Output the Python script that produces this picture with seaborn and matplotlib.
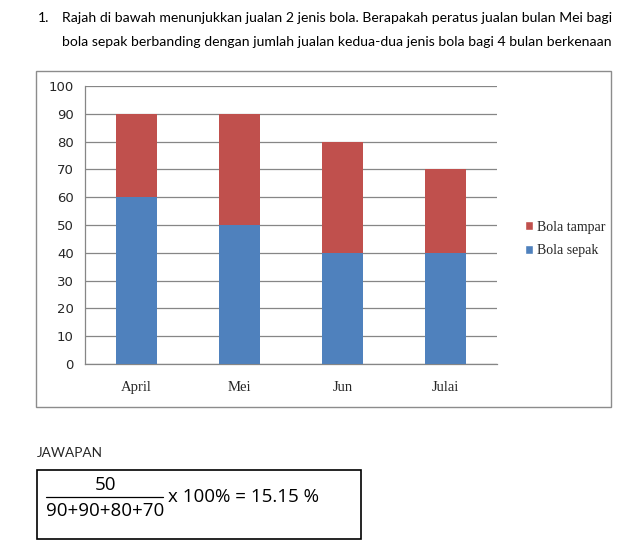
import matplotlib
matplotlib.use("Agg")
import matplotlib.pyplot as plt
import seaborn as sns
import pandas as pd
from matplotlib.patches import Rectangle, Patch

months = ["April", "Mei", "Jun", "Julai"]
bola_sepak = [60, 50, 40, 40]
bola_tampar = [30, 40, 40, 30]
yticks = list(range(0, 101, 10))

totals = [a + b for a, b in zip(bola_sepak, bola_tampar)]
df = pd.DataFrame({"Bulan": months, "sepak": bola_sepak, "total": totals})

RED = "#C0504D"
BLUE = "#4F81BD"
GRID = "#868686"

sns.set_style("white")
fig = plt.figure(figsize=(6.4, 5.46), dpi=100)
W, H = 640, 546

def fx(x):
    return x / W

def fy(y):
    return 1 - y / H

# chart frame
fig.patches.append(Rectangle((fx(36), fy(407)), fx(611) - fx(36), fy(71) - fy(407),
                             transform=fig.transFigure, fill=False, edgecolor="#8c8c8c", lw=1.0))
# answer box
fig.patches.append(Rectangle((fx(37), fy(539)), fx(361) - fx(37), fy(470) - fy(539),
                             transform=fig.transFigure, fill=False, edgecolor="black", lw=1.2))

ax = fig.add_axes([fx(85), fy(364), fx(497) - fx(85), fy(86) - fy(364)])
sns.barplot(data=df, x="Bulan", y="total", color=RED, width=0.4, ax=ax, saturation=1,
            zorder=3, edgecolor="none", linewidth=0)
sns.barplot(data=df, x="Bulan", y="sepak", color=BLUE, width=0.4, ax=ax, saturation=1,
            zorder=3, edgecolor="none", linewidth=0)

ax.set_xlim(-0.5, 3.5)
ax.set_ylim(0, 100)
ax.set_yticks(yticks)
ax.yaxis.grid(True, color=GRID, lw=0.9, zorder=0)
ax.set_axisbelow(True)
for s in ["top", "right"]:
    ax.spines[s].set_visible(False)
for s in ["left", "bottom"]:
    ax.spines[s].set_color(GRID)
    ax.spines[s].set_linewidth(0.9)
ax.set_xlabel("")
ax.set_ylabel("")
ax.tick_params(axis="y", length=5, width=0.9, color=GRID, labelsize=9.5, pad=3)
ax.set_xticks(range(len(months)))
ax.set_xticklabels(months, fontfamily="Liberation Serif", fontsize=10.5)
ax.set_xticks([-0.5, 0.5, 1.5, 2.5, 3.5], minor=True)
ax.tick_params(axis="x", which="major", length=0, pad=12)
ax.tick_params(axis="x", which="minor", length=5, width=0.9, color=GRID)
for lbl in ax.get_yticklabels():
    lbl.set_fontfamily("DejaVu Sans")

handles = [Patch(facecolor=RED, label="Bola tampar"), Patch(facecolor=BLUE, label="Bola sepak")]
fig.legend(handles=handles, loc="center left", bbox_to_anchor=(fx(512), fy(239)),
           frameon=False, prop={"family": "Liberation Serif", "size": 10},
           handlelength=0.6, handleheight=0.6, handletextpad=0.3, labelspacing=0.75)

tfont = dict(family="Lato", fontsize=10.1, color="black")
fig.text(fx(38), fy(18), "1.", va="center", ha="left", **tfont)
fig.text(fx(62), fy(18), "Rajah di bawah menunjukkan jualan 2 jenis bola. Berapakah peratus jualan bulan Mei bagi",
         va="center", ha="left", **tfont)
fig.text(fx(62), fy(42), "bola sepak berbanding dengan jumlah jualan kedua-dua jenis bola bagi 4 bulan berkenaan",
         va="center", ha="left", **tfont)

fig.text(fx(37), fy(453), "JAWAPAN", va="center", ha="left", family="Lato", fontsize=9.8)

efont = dict(family="Open Sans", fontsize=13.5, color="black")
fig.text(fx(105), fy(485), "50", va="center", ha="center", **efont)
fig.lines.append(plt.Line2D([fx(46), fx(163)], [fy(497), fy(497)], transform=fig.transFigure,
                            color="black", lw=0.9))
fig.text(fx(105), fy(511), "90+90+80+70", va="center", ha="center", **efont)
fig.text(fx(168), fy(497), "x 100% = 15.15 %", va="center", ha="left", **efont)

fig.savefig("out.png", dpi=100)
